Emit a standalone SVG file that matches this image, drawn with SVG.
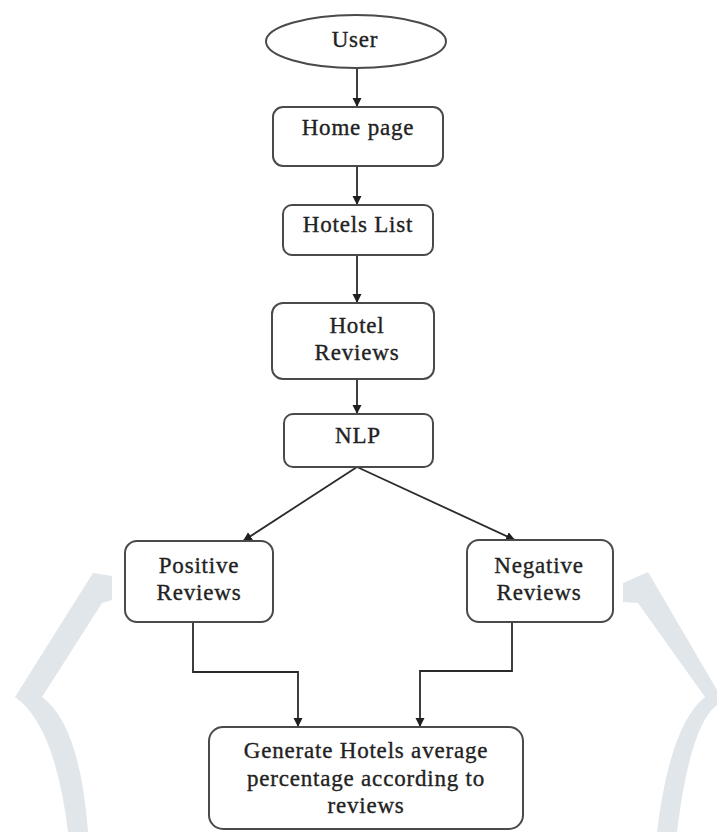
<svg xmlns="http://www.w3.org/2000/svg" width="717" height="832" viewBox="0 0 717 832">
<style>
.node{fill:#ffffff;stroke:#4a4a4a;stroke-width:2}
.lbl{font-family:"Liberation Serif","Times New Roman",serif;font-size:23px;fill:#222222;stroke:#222222;stroke-width:0.35px;text-anchor:middle;letter-spacing:0.8px}
.conn{fill:none;stroke:#2a2a2a;stroke-width:1.8}
.wm{fill:#e1e6ea}
</style>
<defs>
<marker id="arr" markerUnits="userSpaceOnUse" markerWidth="10" markerHeight="10" refX="9" refY="5" orient="auto">
<path d="M0,0.5 L9,5 L0,9.5 Z" fill="#1f1f1f"/>
</marker>
</defs>
<rect width="717" height="832" fill="#ffffff"/>
<g id="watermark">
<path class="wm" d="M93,573 L112,576 L112,600 L102,603 L42,697 Q80,725 88,832 L68,832 Q55,725 15,697 Z"/>
<path class="wm" d="M623,583 L648,572 L717,690 L717,705 Q690,725 677,832 L657,832 Q670,725 705,697 L638,603 L623,602 Z"/>
</g>
<g id="connectors">
<line class="conn" x1="357" y1="68" x2="357" y2="107" marker-end="url(#arr)"/>
<line class="conn" x1="357" y1="166" x2="357" y2="205" marker-end="url(#arr)"/>
<line class="conn" x1="357" y1="255" x2="357" y2="303" marker-end="url(#arr)"/>
<line class="conn" x1="357" y1="379" x2="357" y2="414" marker-end="url(#arr)"/>
<line class="conn" x1="357" y1="467" x2="243" y2="541" marker-end="url(#arr)"/>
<line class="conn" x1="357" y1="467" x2="515" y2="540" marker-end="url(#arr)"/>
<path class="conn" d="M193,622 V672 H298 V727" marker-end="url(#arr)"/>
<path class="conn" d="M512,622 V671 H420 V727" marker-end="url(#arr)"/>
</g>
<g id="user">
<ellipse class="node" cx="356" cy="41.5" rx="90" ry="26.5"/>
<text class="lbl" x="355" y="47">User</text>
</g>
<g id="home-page">
<rect class="node" x="273" y="107" width="170" height="59" rx="10"/>
<text class="lbl" x="358" y="135">Home page</text>
</g>
<g id="hotels-list">
<rect class="node" x="283" y="205" width="150" height="50" rx="9"/>
<text class="lbl" x="358" y="232">Hotels List</text>
</g>
<g id="hotel-reviews">
<rect class="node" x="272" y="303" width="162" height="76" rx="11"/>
<text class="lbl" x="357" y="333">Hotel</text>
<text class="lbl" x="357" y="360">Reviews</text>
</g>
<g id="nlp">
<rect class="node" x="284" y="414" width="149" height="53" rx="9"/>
<text class="lbl" x="358" y="443">NLP</text>
</g>
<g id="positive-reviews">
<rect class="node" x="125" y="541" width="148" height="81" rx="12"/>
<text class="lbl" x="199" y="573">Positive</text>
<text class="lbl" x="199" y="600">Reviews</text>
</g>
<g id="negative-reviews">
<rect class="node" x="467" y="540" width="146" height="82" rx="12"/>
<text class="lbl" x="539" y="573">Negative</text>
<text class="lbl" x="539" y="600">Reviews</text>
</g>
<g id="generate">
<rect class="node" x="209" y="727" width="314" height="102" rx="14"/>
<text class="lbl" x="366" y="758">Generate Hotels average</text>
<text class="lbl" x="366" y="786">percentage according to</text>
<text class="lbl" x="366" y="813">reviews</text>
</g>
</svg>
